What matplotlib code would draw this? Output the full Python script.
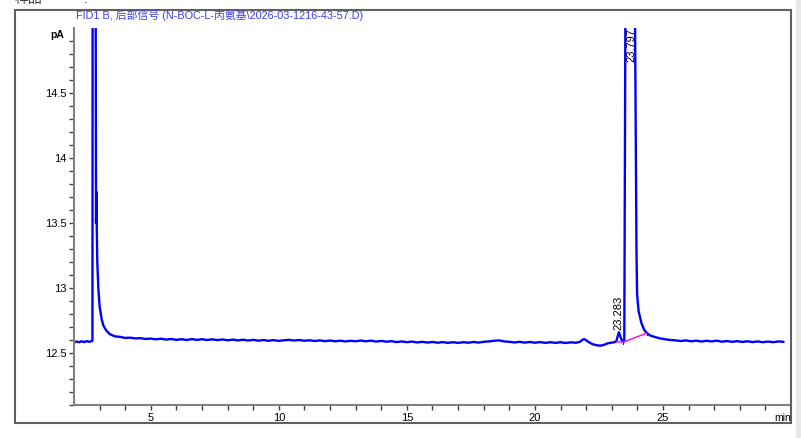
import matplotlib.pyplot as plt
from matplotlib.patches import Rectangle

plt.rcParams['font.family'] = ['Liberation Sans', 'Noto Sans CJK SC', 'DejaVu Sans']

# signal trace (min, pA)
times = [2.0, 2.1, 2.2, 2.3, 2.4, 2.5, 2.6, 2.7, 2.72, 2.73, 2.80, 2.84, 2.86, 2.875, 2.89,
         2.91, 2.95, 3.0, 3.08, 3.15, 3.27, 3.4, 3.5,
         3.6, 3.8, 4.0, 4.2, 4.4, 4.6, 4.8, 5.0, 5.2, 5.4, 5.6, 5.8, 6.0, 6.2, 6.4, 6.6, 6.8,
         7.0, 7.2, 7.4, 7.6, 7.8, 8.0, 8.2, 8.4, 8.6, 8.8, 9.0, 9.2, 9.4, 9.6, 9.8,
         10.0, 10.2, 10.4, 10.6, 10.8, 11.0, 11.2, 11.4, 11.6, 11.8, 12.0, 12.2, 12.4, 12.6, 12.8,
         13.0, 13.2, 13.4, 13.6, 13.8, 14.0, 14.2, 14.4, 14.6, 14.8, 15.0, 15.2, 15.4, 15.6, 15.8,
         16.0, 16.2, 16.4, 16.6, 16.8, 17.0, 17.2, 17.4, 17.6, 17.8, 18.0, 18.2, 18.4, 18.6, 18.8,
         19.0, 19.2, 19.4, 19.6, 19.8, 20.0, 20.2, 20.4, 20.6, 20.8, 21.0, 21.2, 21.4, 21.6,
         21.75, 21.85, 21.92, 22.0, 22.1, 22.25, 22.4, 22.55, 22.7, 22.85, 23.0, 23.1, 23.18,
         23.24, 23.28, 23.33, 23.40, 23.46, 23.49, 23.54, 23.62, 23.82, 23.895, 23.965, 23.99,
         24.05, 24.16, 24.26, 24.36, 24.5, 24.7, 24.9, 25.1, 25.3, 25.5,
         25.7, 25.9, 26.1, 26.3, 26.5, 26.7, 26.9, 27.1, 27.3, 27.5, 27.7, 27.9, 28.1, 28.3,
         28.5, 28.7, 28.9, 29.1, 29.3, 29.5, 29.7]
signal = [12.582, 12.588, 12.583, 12.590, 12.584, 12.591, 12.586, 12.592, 12.595, 16.0, 20.0, 16.0, 13.5, 13.74, 13.45,
          13.2, 13.0, 12.86, 12.76, 12.71, 12.67, 12.645, 12.636,
          12.628, 12.624, 12.616, 12.618, 12.612, 12.614, 12.608, 12.611, 12.605, 12.610, 12.603, 12.608, 12.601, 12.606, 12.600, 12.607, 12.601,
          12.606, 12.600, 12.605, 12.599, 12.604, 12.598, 12.603, 12.597, 12.602, 12.596, 12.601, 12.595, 12.600, 12.594, 12.599,
          12.593, 12.598, 12.601, 12.596, 12.600, 12.594, 12.598, 12.592, 12.597, 12.591, 12.596, 12.590, 12.595, 12.589, 12.594,
          12.590, 12.596, 12.590, 12.595, 12.588, 12.593, 12.587, 12.591, 12.584, 12.589, 12.583, 12.588, 12.581, 12.586, 12.580,
          12.585, 12.579, 12.584, 12.578, 12.583, 12.578, 12.583, 12.579, 12.585, 12.580, 12.586, 12.589, 12.594, 12.597, 12.589,
          12.586, 12.581, 12.586, 12.580, 12.585, 12.579, 12.584, 12.578, 12.583, 12.578, 12.583, 12.577, 12.582, 12.579,
          12.585, 12.600, 12.607, 12.598, 12.584, 12.568, 12.560, 12.556, 12.563, 12.575, 12.580, 12.583, 12.590,
          12.635, 12.66, 12.63, 12.595, 12.585, 12.60, 15.5, 45.0, 45.0, 15.5, 13.30, 12.95,
          12.82, 12.73, 12.68, 12.655, 12.635, 12.622, 12.612, 12.605, 12.600, 12.597,
          12.592, 12.597, 12.590, 12.595, 12.588, 12.594, 12.589, 12.595, 12.587, 12.592, 12.586, 12.591, 12.585, 12.590,
          12.584, 12.589, 12.583, 12.588, 12.583, 12.589, 12.586]

# integration baseline segments and peak labels
base_t = [[23.19, 23.45], [23.45, 24.36]]
base_v = [[12.586, 12.584], [12.584, 12.652]]
peak_rt = ['23.283', '23.797']

fig = plt.figure(figsize=(8.01, 4.38), dpi=100)
W, H = 801, 438
ax = fig.add_axes([74 / W, 1 - 405 / H, (791 - 74) / W, (405 - 28) / H])

ax.plot(times, signal, color='#0000ff', lw=1.7)
for bt, bv in zip(base_t, base_v):
    ax.plot(bt, bv, color='#ff00ff', lw=1.0)
    ax.plot([bt[1], bt[1]], [bv[1] - 0.012, bv[1] + 0.012], color='#303030', lw=0.8)

ax.text(23.26, 12.675, peak_rt[0], rotation=90, ha='center', va='bottom', fontsize=8)
ax.text(23.77, 15.0, peak_rt[1], rotation=90, ha='center', va='top', fontsize=8)

ax.set_xlim(2.0, 30.0)
ax.set_ylim(12.1, 15.0)
ax.set_xticks([5, 10, 15, 20, 25])
ax.set_xticks(range(3, 30), minor=True)
ax.set_yticks([12.5, 13, 13.5, 14, 14.5])
ax.set_yticklabels(['12.5', '13', '13.5', '14', '14.5'])
ax.set_yticks([12.1 + 0.1 * i for i in range(29)], minor=True)
ax.tick_params(which='both', direction='out', length=3.5, width=1.0, color='#404040',
               labelsize=8, pad=2)

for s in ['top', 'right']:
    ax.spines[s].set_visible(False)
for s in ['left', 'bottom']:
    ax.spines[s].set_color('#808080')
    ax.spines[s].set_linewidth(1.5)

# outer frame and extras
fig.add_artist(Rectangle((15 / W, 1 - 423 / H), 776 / W, 413 / H, transform=fig.transFigure,
                         fill=False, edgecolor='#606060', lw=1.5))
fig.add_artist(Rectangle((796 / W, 0), 5 / W, 1, transform=fig.transFigure,
                         facecolor='#e8e8e8', edgecolor='none'))

fig.text(76 / W, 1 - 15 / H, 'FID1 B, 后部信号 (N-BOC-L-丙氨基\\2026-03-1216-43-57.D)',
         color='#3c3cf0', fontsize=7.8, va='center', ha='left')
fig.text(57 / W, 1 - 35 / H, 'pA', fontsize=7.5, fontweight='bold', ha='center', va='center')
fig.text(783 / W, 1 - 418 / H, 'min', fontsize=7.5, ha='center', va='center')
fig.text(15 / W, 1 - 3 / H, '样品', fontsize=10, color='#404040', ha='left', va='baseline')
fig.text(84 / W, 1 - 3 / H, ':', fontsize=10, color='#404040', ha='left', va='baseline')

fig.savefig('out.png', dpi=100)
